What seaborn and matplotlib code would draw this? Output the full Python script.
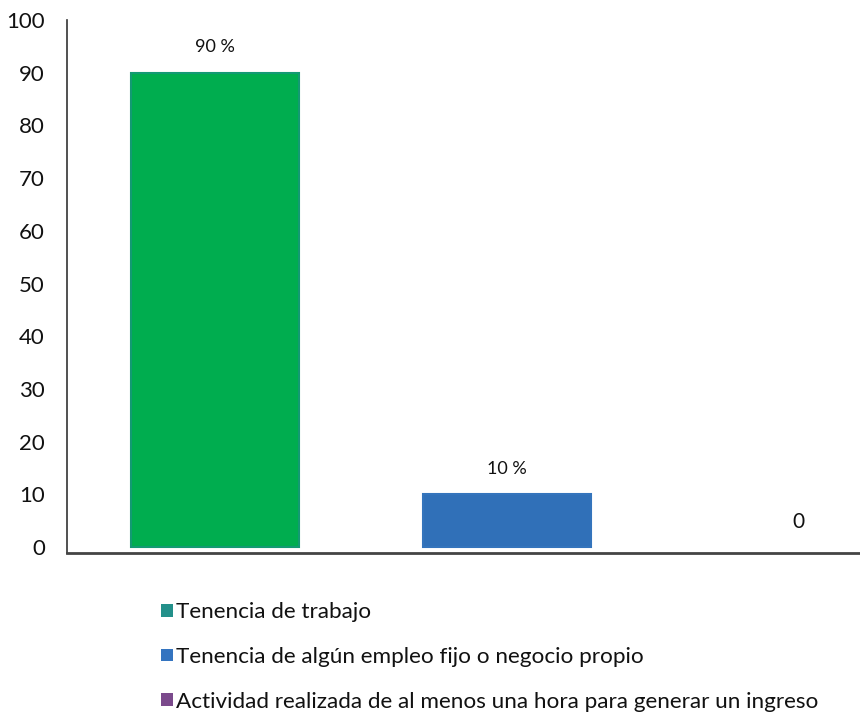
import matplotlib
matplotlib.use("Agg")
import matplotlib.pyplot as plt
import seaborn as sns
import pandas as pd
from matplotlib.patches import Patch

categories = [
    "Tenencia de trabajo",
    "Tenencia de algún empleo fijo o negocio propio",
    "Actividad realizada de al menos una hora para generar un ingreso",
]
values = [90, 10, 0]
bar_labels = ["90 %", "10 %", "0"]
colors = ["#00AD4F", "#3070B8", "#7B4A8C"]
edge_colors = ["#139A73", "#3474BC", "#7B4A8C"]
legend_colors = ["#23908A", "#3474C0", "#7B4A8C"]
yticks = [0, 10, 20, 30, 40, 50, 60, 70, 80, 90, 100]

sns.set_theme(style="white")
plt.rcParams["font.family"] = ["Lato", "DejaVu Sans"]

df = pd.DataFrame({"cat": categories, "val": values})

fig = plt.figure(figsize=(8.6, 7.12), dpi=100)
ax = fig.add_axes([67 / 860, 159 / 712, 793 / 860, 533 / 712])

sns.barplot(data=df, x="cat", y="val", hue="cat", palette=colors,
            order=categories, hue_order=categories, width=0.575,
            dodge=False, legend=False, ax=ax, saturation=1)

for patch, ec, v in zip(ax.patches, edge_colors, values):
    patch.set_edgecolor(ec)
    patch.set_linewidth(1.5 if v > 0 else 0)

for i, (v, lab) in enumerate(zip(values, bar_labels)):
    fs = 13 if "%" in lab else 15
    ax.text(i, v + 4.8, lab, ha="center", va="center", fontsize=fs, color="#111111")

ax.set_xlim(-0.507, 2.21)
ax.set_ylim(-1.1, 100)
ax.set_yticks(yticks)
ax.set_yticklabels([str(t) for t in yticks], fontsize=16, color="#111111")
ax.set_xticks([])
ax.set_xlabel("")
ax.set_ylabel("")
ax.tick_params(axis="y", length=0, pad=16)

for side in ["top", "right"]:
    ax.spines[side].set_visible(False)
ax.spines["left"].set_color("#333333")
ax.spines["left"].set_linewidth(1.2)
ax.spines["bottom"].set_color("#444444")
ax.spines["bottom"].set_linewidth(2)

handles = [Patch(facecolor=c, edgecolor="none") for c in legend_colors]
fig.legend(handles, categories, loc="upper left",
           bbox_to_anchor=(150 / 860, 1 - 591 / 712), frameon=False,
           fontsize=16.2, handlelength=0.5, handleheight=0.5,
           handletextpad=0.15, labelspacing=1.1, borderpad=0,
           labelcolor="#111111")

fig.savefig("out.png", dpi=100)
